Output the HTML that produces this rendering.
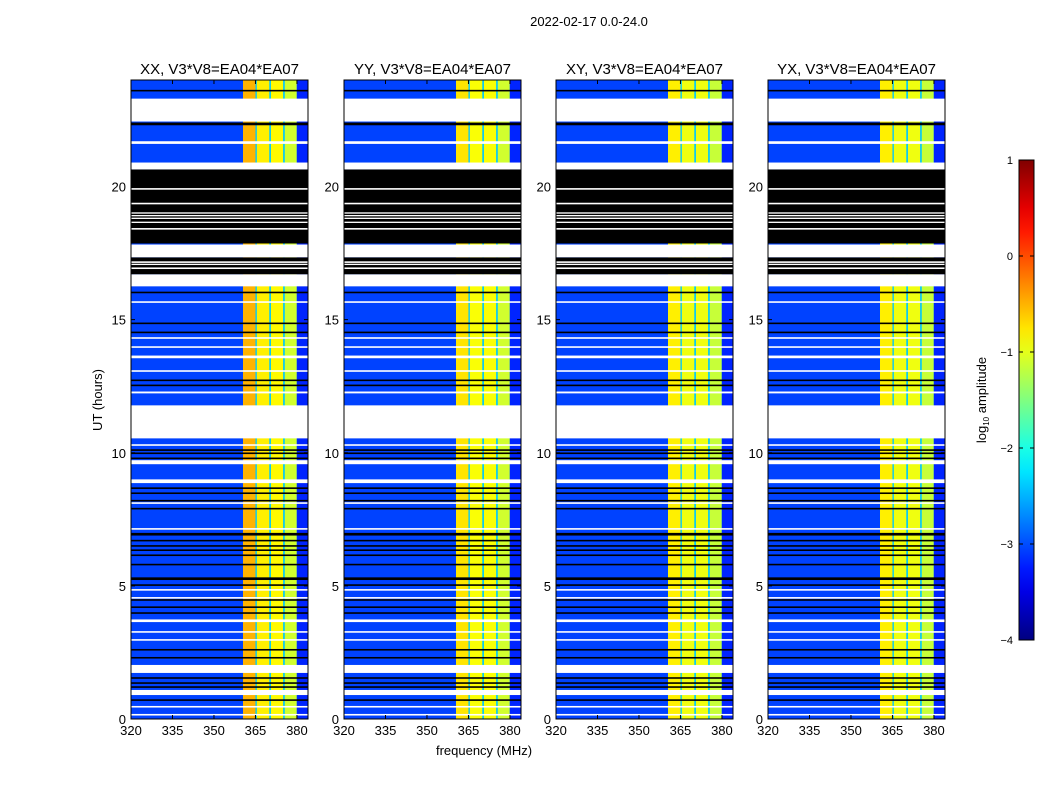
<!DOCTYPE html>
<html><head><meta charset="utf-8">
<style>
body{margin:0;background:#fff;}
svg{display:block;font-family:"Liberation Sans",sans-serif;}
</style></head>
<body>
<svg id="fig" width="1050" height="800" viewBox="0 0 1050 800">
<rect width="1050" height="800" fill="#fff"/>
<text x="589" y="26" font-size="13" text-anchor="middle">2022-02-17 0.0-24.0</text>
</svg>
<script>
// ---- data ----
const panelTitles = ["XX, V3*V8=EA04*EA07","YY, V3*V8=EA04*EA07","XY, V3*V8=EA04*EA07","YX, V3*V8=EA04*EA07"];
const xTicks = [320,335,350,365,380];
const yTicks = [0,5,10,15,20];
const cbTicks = [1,0,-1,-2,-3,-4];
const bandStarts = [360.5,365.5,370.6,375.6];
const bandEnds = [365.0,370.0,375.0,379.9];
const bandLevelsXX = [-0.5,-0.8,-0.85,-1.1];
const bandLevelsYY = [-0.75,-0.9,-0.9,-1.1];
const bandLevelsXY = [-0.8,-0.95,-0.95,-1.15];
const bandLevelsYX = [-0.8,-0.95,-0.95,-1.15];
const gapLevel = -2.4;
const bgLevel = -3.05;
const edgeLevel = -3.2;
const blackBlockStart = [17.86,16.7];
const blackBlockEnd = [20.64,17.34];
const whiteStart = [22.44,21.6,20.64,19.88,19.33,18.98,18.88,18.78,18.63,18.38,17.34,17.13,17.05,16.9,16.25,15.63,14.28,13.94,13.55,13.04,12.23,10.54,10.26,9.57,8.86,8.08,7.11,4.82,4.52,3.64,3.24,2.94,1.73,0.9,0.43,0.13];
const whiteEnd   = [23.3,21.7,20.9,19.94,19.39,19.03,18.93,18.83,18.68,18.44,17.82,17.19,17.1,16.96,16.7,15.69,14.34,14.0,13.65,13.1,12.3,11.78,10.32,9.72,9.0,8.14,7.17,4.88,4.58,3.74,3.3,3.0,2.03,1.09,0.49,0.19];
const blackLines = [23.6,22.35,16.02,14.86,14.52,12.72,12.53,10.1,9.98,9.79,8.67,8.48,8.2,7.9,6.94,6.7,6.5,6.34,6.15,5.8,5.27,5.03,4.47,4.2,3.98,2.6,2.3,1.54,1.35,1.2,0.71];
const blackWidths = [0.06,0.1,0.06,0.06,0.06,0.06,0.06,0.06,0.06,0.06,0.06,0.06,0.06,0.06,0.1,0.06,0.06,0.06,0.06,0.06,0.1,0.06,0.06,0.06,0.06,0.06,0.06,0.06,0.06,0.06,0.06];
// ---- layout ----
const panelX = [131,344,556,768];
const PW = 177, PT = 80, PB = 719;
const fMin = 320, fMax = 384, hMin = 0, hMax = 24;
const NS = "http://www.w3.org/2000/svg";
const svg = document.getElementById("fig");
function mk(tag, attrs, parent){const e=document.createElementNS(NS,tag);for(const k in attrs)e.setAttribute(k,attrs[k]);(parent||svg).appendChild(e);return e;}
function yS(h){return PB-(h-hMin)/(hMax-hMin)*(PB-PT);}
function jet(v){
  let t=(v+4)/5; t=Math.max(0,Math.min(1,t));
  const c=x=>Math.round(255*Math.max(0,Math.min(1,x)));
  return `rgb(${c(1.5-Math.abs(4*t-3))},${c(1.5-Math.abs(4*t-2))},${c(1.5-Math.abs(4*t-1))})`;
}
const bandSets=[bandLevelsXX,bandLevelsYY,bandLevelsXY,bandLevelsYX];
panelTitles.forEach((title,p)=>{
  const x0=panelX[p];
  const xS=f=>x0+(f-fMin)/(fMax-fMin)*PW;
  const g=mk("g",{});
  
  
  const bg=mk("rect",{x:x0,y:PT,width:PW,height:PB-PT,fill:jet(bgLevel)},g);
  
  
  const edge=mk("rect",{x:xS(380),y:PT,width:xS(fMax)-xS(380),height:PB-PT,fill:jet(edgeLevel)},g);
  
  
  mk("rect",{x:xS(bandStarts[0]),y:PT,width:xS(bandEnds[3])-xS(bandStarts[0]),height:PB-PT,fill:jet(gapLevel)},g);
  bandStarts.forEach((s,i)=>{
    const r=mk("rect",{x:xS(s),y:PT,width:xS(bandEnds[i])-xS(s),height:PB-PT,fill:jet(bandSets[p][i])},g);
    
    
  });
  blackBlockStart.forEach((s,i)=>{
    const r=mk("rect",{x:x0,y:yS(blackBlockEnd[i]),width:PW,height:yS(s)-yS(blackBlockEnd[i]),fill:"#000"},g);
    
    
  });
  blackLines.forEach((h,i)=>{
    const w=blackWidths[i];
    const r=mk("rect",{x:x0,y:yS(h+w/2),width:PW,height:Math.max(1.2,yS(h-w/2)-yS(h+w/2)),fill:"#000"},g);
    
    
  });
  whiteStart.forEach((s,i)=>{
    const r=mk("rect",{x:x0,y:yS(whiteEnd[i]),width:PW,height:Math.max(1.2,yS(s)-yS(whiteEnd[i])),fill:"#fff"},g);
    
    
  });
  const fr=mk("rect",{x:x0,y:PT,width:PW,height:PB-PT,fill:"none",stroke:"#000","stroke-width":1},g);
  
  
  const t=mk("text",{x:x0+PW/2,y:74,"font-size":15,"text-anchor":"middle"},g);
  t.textContent=title;
  
  
  xTicks.forEach(f=>{
    const x=xS(f);
    mk("line",{x1:x,x2:x,y1:PB,y2:PB-4,stroke:"#000"},g);
    mk("line",{x1:x,x2:x,y1:PT,y2:PT+4,stroke:"#000"},g);
    const l=mk("text",{x:x,y:PB+16,"font-size":13,"text-anchor":"middle"},g);
    l.textContent=f;
    
    
  });
  yTicks.forEach(h=>{
    const y=yS(h);
    mk("line",{x1:x0,x2:x0+4,y1:y,y2:y,stroke:"#000"},g);
    mk("line",{x1:x0+PW,x2:x0+PW-4,y1:y,y2:y,stroke:"#000"},g);
    const l=mk("text",{x:x0-5,y:y+5,"font-size":13,"text-anchor":"end"},g);
    l.textContent=h;
    
    
  });
});
const yl=mk("text",{x:0,y:0,"font-size":13,"text-anchor":"middle",transform:"translate(102,400) rotate(-90)"});
yl.textContent="UT (hours)";


const xl=mk("text",{x:484,y:755,"font-size":13,"text-anchor":"middle"});
xl.textContent="frequency (MHz)";


// colorbar
const defs=mk("defs",{});
const lg=mk("linearGradient",{id:"jetg",x1:0,y1:1,x2:0,y2:0},defs);
for(let i=0;i<=20;i++){mk("stop",{offset:i/20,"stop-color":jet(-4+5*i/20)},lg);}
const CBT=160,CBB=640,CBX=1019,CBW=15;
const cb=mk("rect",{x:CBX,y:CBT,width:CBW,height:CBB-CBT,fill:"url(#jetg)",stroke:"#000","stroke-width":1});


cbTicks.forEach(v=>{
  const y=CBB-(v+4)/5*(CBB-CBT);
  mk("line",{x1:CBX,x2:CBX+4,y1:y,y2:y,stroke:"#000"});
  mk("line",{x1:CBX+CBW,x2:CBX+CBW-4,y1:y,y2:y,stroke:"#000"});
  const l=mk("text",{x:1013,y:y+4,"font-size":11,"text-anchor":"end"});
  l.textContent=v<0?"\u2212"+(-v):String(v);
  
  
});
const cl=mk("text",{x:0,y:0,"font-size":13,"text-anchor":"middle",transform:"translate(986,400) rotate(-90)"});
cl.innerHTML='log<tspan font-size="8" dy="3">10</tspan><tspan dy="-3"> amplitude</tspan>';


</script>
</body></html>
